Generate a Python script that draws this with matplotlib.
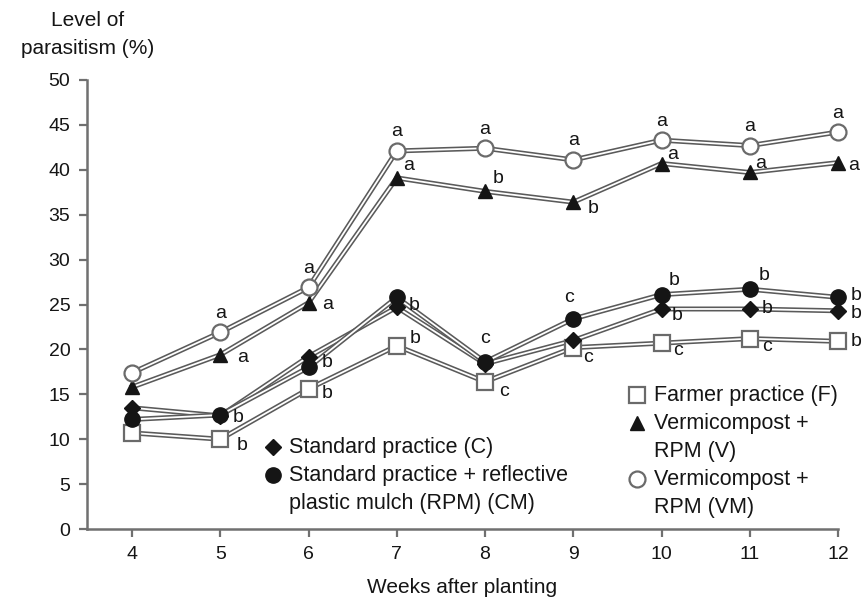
import matplotlib
matplotlib.use('Agg')
import matplotlib.pyplot as plt
import matplotlib.patheffects as pe

plt.rcParams['font.family'] = ['Liberation Sans', 'DejaVu Sans']

weeks = [4, 5, 6, 7, 8, 9, 10, 11, 12]

# level of parasitism (%) per treatment
farmer = [10.7, 10.0, 15.6, 20.4, 16.4, 20.2, 20.7, 21.2, 20.9]
standard = [13.5, 12.6, 19.2, 24.7, 18.4, 21.0, 24.5, 24.5, 24.3]
standard_rpm = [12.2, 12.7, 18.0, 25.8, 18.6, 23.4, 26.1, 26.7, 25.8]
vermi_v = [15.8, 19.4, 25.2, 39.1, 37.6, 36.4, 40.7, 39.7, 40.8]
vermi_vm = [17.4, 21.9, 26.9, 42.1, 42.4, 41.1, 43.3, 42.7, 44.2]

# significance letters
farmer_sig = ['', 'b', 'b', 'b', 'c', 'c', 'c', 'c', 'b']
standard_sig = ['', '', '', '', '', '', 'b', 'b', 'b']
standard_rpm_sig = ['', 'b', 'b', 'b', 'c', 'c', 'b', 'b', 'b']
vermi_v_sig = ['', 'a', 'a', 'a', 'b', 'b', 'a', 'a', 'a']
vermi_vm_sig = ['', 'a', 'a', 'a', 'a', 'a', 'a', 'a', 'a']

labels_left = [['Standard practice (C)'],
               ['Standard practice + reflective', 'plastic mulch (RPM) (CM)']]
labels_right = [['Farmer practice (F)'],
                ['Vermicompost +', 'RPM (V)'],
                ['Vermicompost +', 'RPM (VM)']]

LINE = '#5a5a5a'
INK = '#151515'
FS = 14

# marker styles
sty_f = dict(marker='s', ms=11, mfc='white', mec='#6a6a6a', mew=1.6)
sty_c = dict(marker='D', ms=8.5, mfc=INK, mec=INK, mew=1)
sty_cm = dict(marker='o', ms=11, mfc=INK, mec=INK, mew=1)
sty_v = dict(marker='^', ms=10, mfc=INK, mec=INK, mew=1)
sty_vm = dict(marker='o', ms=11.5, mfc='white', mec='#6a6a6a', mew=1.6)

# label offsets in pixels (dx, dy)
off_vm = [None] + [(0, 19)] * 8
off_v = [None, (22, -3), (19, -2), (12, 12), (13, 13), (20, -6), (11, 9), (11, 9), (16, -3)]
off_cm = [None, (18, -3), (19, 5), (17, -8), (0, 23), (-4, 21), (13, 14), (14, 14), (18, 2)]
off_c = [None] * 6 + [(16, -7), (17, 0), (18, -3)]
off_f = [None, (22, -6), (19, -5), (18, 7), (19, -10), (15, -10), (16, -7), (17, -8), (18, 0)]

fig = plt.figure(figsize=(8.64, 5.99), dpi=100)
ax = fig.add_axes([87 / 864, 70 / 599, 751 / 864, 449 / 599])

series = [
    (farmer, sty_f, farmer_sig, off_f),
    (standard, sty_c, standard_sig, off_c),
    (standard_rpm, sty_cm, standard_rpm_sig, off_cm),
    (vermi_v, sty_v, vermi_v_sig, off_v),
    (vermi_vm, sty_vm, vermi_vm_sig, off_vm),
]

for vals, sty, sig, offs in series:
    ax.plot(weeks, vals, color='white', lw=1.3, zorder=2, clip_on=False,
            path_effects=[pe.Stroke(linewidth=3.6, foreground=LINE), pe.Normal()])
for vals, sty, sig, offs in series:
    ax.plot(weeks, vals, ls='none', zorder=3, clip_on=False, **sty)
    for w, v, s, o in zip(weeks, vals, sig, offs):
        if s:
            ax.annotate(s, (w, v), xytext=o, textcoords='offset pixels',
                        ha='center', va='center', fontsize=FS, color=INK)

ax.set_xlim(3.49, 12.0)
ax.set_ylim(0, 50)
ax.set_xticks(weeks)
ax.set_yticks(range(0, 51, 5))
for side in ['top', 'right']:
    ax.spines[side].set_visible(False)
for side in ['left', 'bottom']:
    ax.spines[side].set_color('#707070')
    ax.spines[side].set_linewidth(1.8)
ax.tick_params(colors='#707070', width=1.6, length=6, pad=6, labelsize=FS,
               labelcolor=INK)

ax.set_xlabel('Weeks after planting', fontsize=15, color=INK, labelpad=11)
fig.text(88 / 864, 1 - 35 / 599, 'Level of\nparasitism (%)', ha='center', va='center',
         fontsize=15, color=INK, linespacing=1.6)

# legend keys drawn by hand so the marker sits on the first text line
step = 28 / 449


def draw_key(x_mark, x_text, y, sty, lines):
    ax.plot([x_mark], [y], transform=ax.transAxes, clip_on=False, ls='none', **sty)
    for i, t in enumerate(lines):
        ax.text(x_text, y - i * step, t, transform=ax.transAxes, ha='left', va='center',
                fontsize=15.5, color=INK)


y0 = 0.1826
for sty, lines in zip([sty_c, sty_cm], labels_left):
    draw_key(0.248, 0.269, y0, sty, lines)
    y0 -= step * len(lines)

y0 = 0.2984
for sty, lines in zip([sty_f, sty_v, sty_vm], labels_right):
    draw_key(0.733, 0.755, y0, sty, lines)
    y0 -= step * len(lines)

fig.savefig('out.png', dpi=100)
